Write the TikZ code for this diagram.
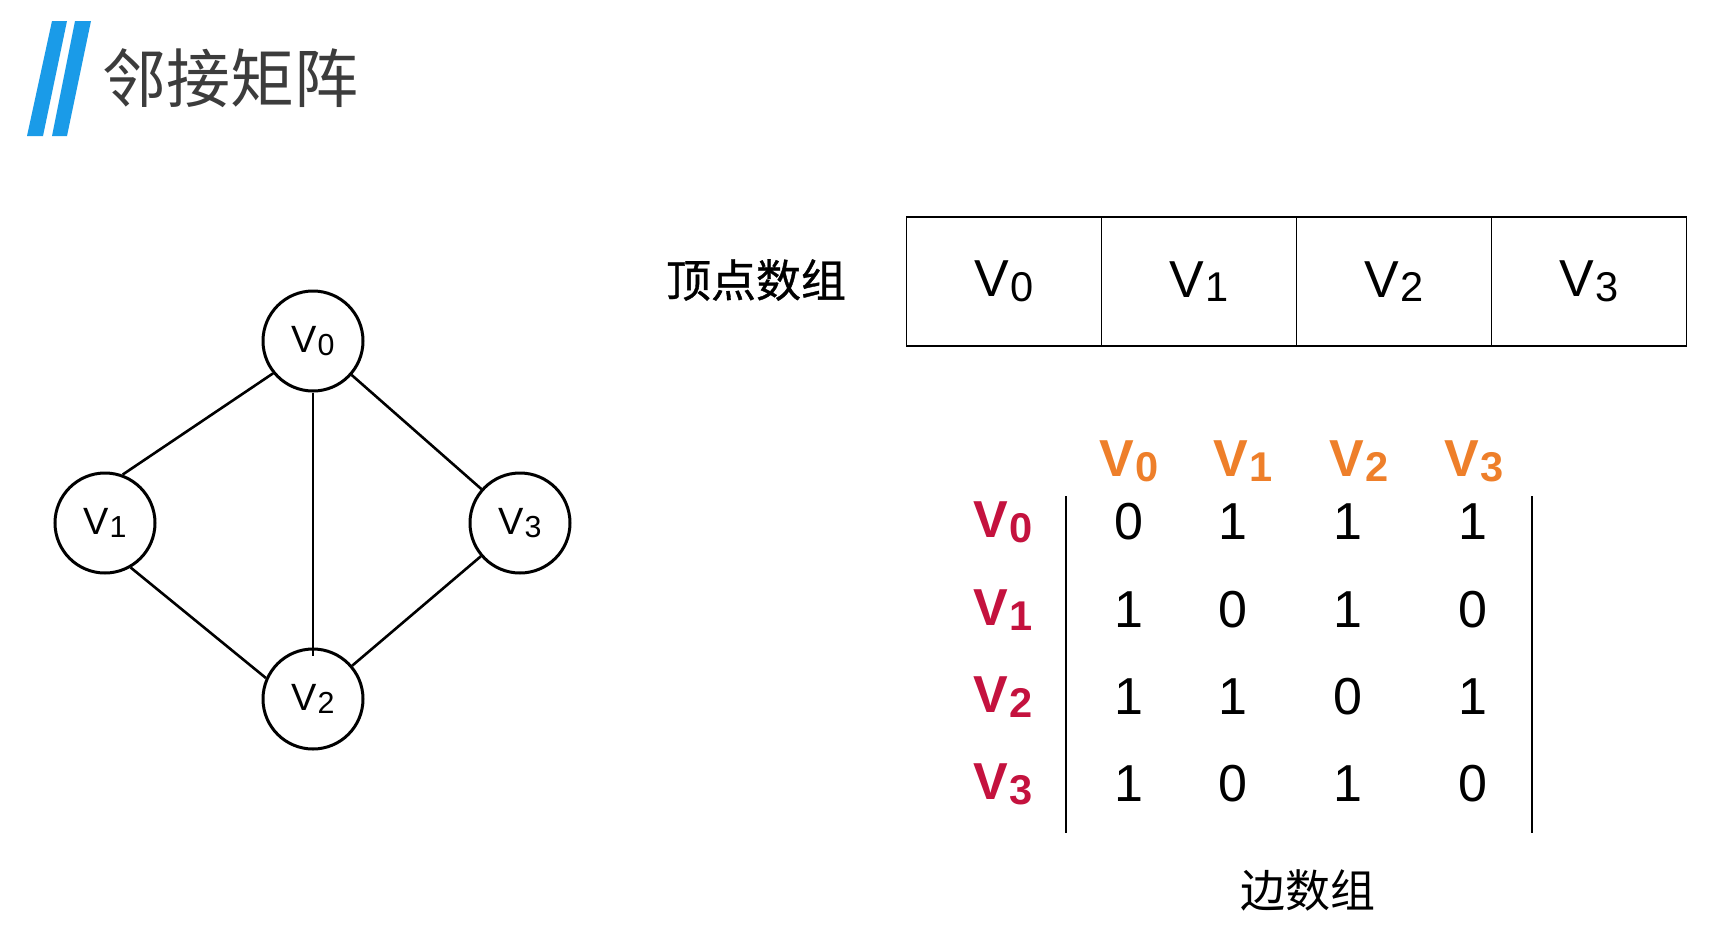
\documentclass[tikz,border=0pt]{standalone}
\usepackage{fontspec}
\setmainfont{Liberation Sans}
\newfontfamily\cjk{Noto Sans CJK SC}
\newfontfamily\cjkmed[FakeBold=0.8]{Noto Sans CJK SC}
\usepackage{tikz}
\usetikzlibrary{positioning}
\definecolor{BarBlue}{HTML}{1A9BE8}
\definecolor{TitleGray}{HTML}{3C3C3C}
\definecolor{HeadOrange}{HTML}{EE7F2A}
\definecolor{RowRed}{HTML}{C4123E}
\newcommand{\Vsub}[1]{V\kern0.02em\raisebox{-0.09em}{\scalebox{0.8}{#1}}}

\begin{document}
\begin{tikzpicture}[x=1pt,y=-1pt,
vert/.style={circle,draw,line width=3pt,minimum size=100pt,inner sep=0pt,font=\fontsize{38}{42}\selectfont},
edge/.style={line width=2.6pt},
cell/.style={draw,line width=1.8pt,minimum width=195pt,minimum height=129pt,outer sep=0pt,inner sep=0pt,font=\fontsize{52}{60}\selectfont},
colhd/.style={text=HeadOrange,font=\fontsize{52}{60}\selectfont\bfseries},
rowhd/.style={text=RowRed,font=\fontsize{52}{60}\selectfont\bfseries},
entry/.style={font=\fontsize{52}{60}\selectfont},
cjklabel/.style={font=\cjk\fontsize{45}{50}\selectfont},
bar/.style={line width=2.2pt}]
\fill[white] (0,0) rectangle (1709,938);
\useasboundingbox (0,0) rectangle (1709,938);
% title
\fill[BarBlue] (52,21) -- (67,21) -- (43,136) -- (27,136) -- cycle;
\fill[BarBlue] (75,21) -- (91,21) -- (67,136) -- (52,136) -- cycle;
\node[font=\cjk\fontsize{64}{70}\selectfont,text=TitleGray,anchor=west,inner sep=0pt] (title) at (102,78) {邻接矩阵};
% graph
\node[vert] (v0) at (313,341) {\Vsub{0}};
\node[vert] (v1) at (105,523) {\Vsub{1}};
\node[vert] (v3) at (520,523) {\Vsub{3}};
\node[vert] (v2) at (313,699) {\Vsub{2}};
\draw[edge] (v0.219)--(v1.70);
\draw[edge] (v0.south)--([yshift=-8pt]v2.north);
\draw[edge] (v0)--(v3);
\draw[edge] (v1.300)--(v2.156);
\draw[edge] (v3)--(v2);
% vertex array
\node[cjklabel,font=\cjkmed\fontsize{45}{50}\selectfont] (vlab) at (756,280) {顶点数组};
\node[cell] (c0) at (1004,281.5) {\Vsub{0}};
\node[cell,right=0pt of c0] (c1) {\Vsub{1}};
\node[cell,right=0pt of c1] (c2) {\Vsub{2}};
\node[cell,right=0pt of c2] (c3) {\Vsub{3}};
% edge array
\node[colhd] (h0) at (1129,461) {\Vsub{0}};
\node[colhd] (h1) at (1243,461) {\Vsub{1}};
\node[colhd] (h2) at (1359,461) {\Vsub{2}};
\node[colhd] (h3) at (1474,461) {\Vsub{3}};
\node[rowhd] (r0) at (1003,522) {\Vsub{0}};
\node[rowhd] (r1) at (1003,610) {\Vsub{1}};
\node[rowhd] (r2) at (1003,697) {\Vsub{2}};
\node[rowhd] (r3) at (1003,784) {\Vsub{3}};
\node[entry] (m00) at (1129,522) {0}; \node[entry] (m01) at (1233,522) {1}; \node[entry] (m02) at (1348,522) {1}; \node[entry] (m03) at (1473,522) {1};
\node[entry] (m10) at (1129,610) {1}; \node[entry] (m11) at (1233,610) {0}; \node[entry] (m12) at (1348,610) {1}; \node[entry] (m13) at (1473,610) {0};
\node[entry] (m20) at (1129,697) {1}; \node[entry] (m21) at (1233,697) {1}; \node[entry] (m22) at (1348,697) {0}; \node[entry] (m23) at (1473,697) {1};
\node[entry] (m30) at (1129,784) {1}; \node[entry] (m31) at (1233,784) {0}; \node[entry] (m32) at (1348,784) {1}; \node[entry] (m33) at (1473,784) {0};
\coordinate (lt) at (1066,496); \coordinate (lb) at (1066,833);
\coordinate (rt) at (1532,496); \coordinate (rb) at (1532,833);
\draw[bar] (lt)--(lb);
\draw[bar] (rt)--(rb);
\node[cjklabel] (elab) at (1308,890) {边数组};
\end{tikzpicture}
\end{document}
